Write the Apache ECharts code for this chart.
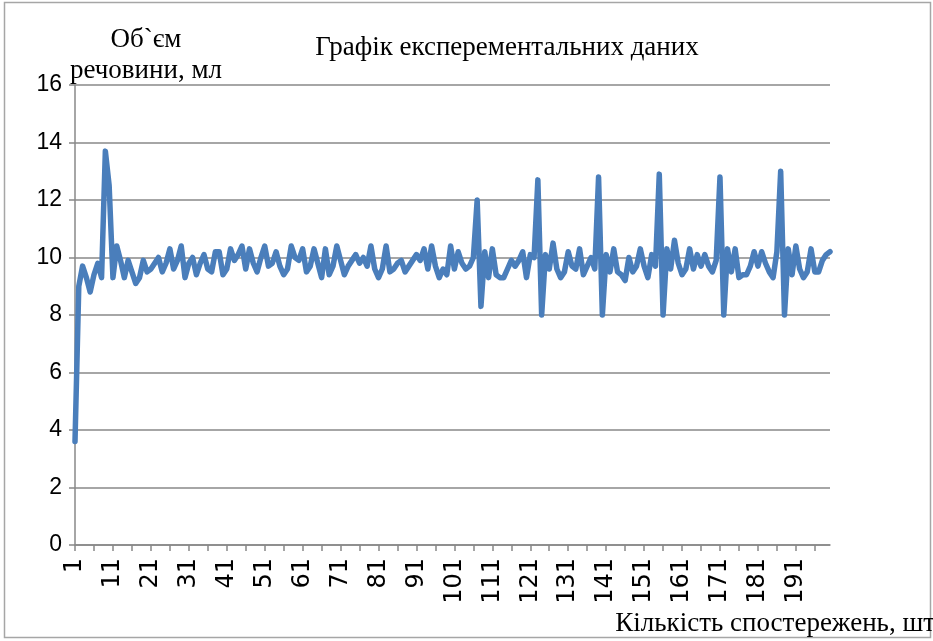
<!DOCTYPE html>
<html>
<head>
<meta charset="utf-8">
<script src="https://cdn.jsdelivr.net/npm/echarts@6/dist/echarts.min.js"></script>
<style>
  html, body { margin: 0; padding: 0; background: #fff; }
  #chart { width: 933px; height: 641px; }
</style>
</head>
<body>
<div id="chart"></div>
<script>
// observation numbers 1..200
const categories = Array.from({ length: 200 }, (_, i) => String(i + 1));

// volume of substance, ml
const volumes = [
  3.6, 9.0, 9.7, 9.3, 8.8, 9.4, 9.8, 9.3, 13.7, 12.5,
  9.3, 10.4, 9.9, 9.3, 9.9, 9.5, 9.1, 9.3, 9.9, 9.5,
  9.6, 9.8, 10.0, 9.5, 9.8, 10.3, 9.6, 9.9, 10.4, 9.3,
  9.8, 10.0, 9.4, 9.8, 10.1, 9.6, 9.5, 10.2, 10.2, 9.4,
  9.6, 10.3, 9.9, 10.1, 10.4, 9.6, 10.3, 9.8, 9.5, 10.0,
  10.4, 9.7, 9.8, 10.2, 9.7, 9.4, 9.6, 10.4, 10.0, 9.9,
  10.3, 9.5, 9.7, 10.3, 9.8, 9.3, 10.3, 9.4, 9.7, 10.4,
  9.9, 9.4, 9.7, 9.9, 10.1, 9.8, 10.0, 9.7, 10.4, 9.6,
  9.3, 9.6, 10.4, 9.5, 9.6, 9.8, 9.9, 9.5, 9.7, 9.9,
  10.1, 9.9, 10.3, 9.6, 10.4, 9.7, 9.3, 9.6, 9.4, 10.4,
  9.6, 10.2, 9.8, 9.6, 9.7, 10.0, 12.0, 8.3, 10.2, 9.3,
  10.3, 9.4, 9.3, 9.3, 9.6, 9.9, 9.7, 9.9, 10.2, 9.3,
  10.1, 10.0, 12.7, 8.0, 10.1, 9.6, 10.5, 9.6, 9.3, 9.5,
  10.2, 9.7, 9.6, 10.3, 9.4, 9.7, 10.0, 9.6, 12.8, 8.0,
  10.1, 9.5, 10.3, 9.5, 9.4, 9.2, 10.0, 9.5, 9.7, 10.3,
  9.7, 9.3, 10.1, 9.7, 12.9, 8.0, 10.3, 9.6, 10.6, 9.8,
  9.4, 9.6, 10.3, 9.6, 10.1, 9.7, 10.1, 9.7, 9.5, 9.9,
  12.8, 8.0, 10.3, 9.5, 10.3, 9.3, 9.4, 9.4, 9.7, 10.2,
  9.7, 10.2, 9.8, 9.5, 9.3, 10.2, 13.0, 8.0, 10.3, 9.4,
  10.4, 9.6, 9.3, 9.5, 10.3, 9.5, 9.5, 9.9, 10.1, 10.2
];

const yMin = 0;
const yMax = 16;
const yStep = 2;

const chart = echarts.init(document.getElementById("chart"));

const serif = "'Liberation Serif', 'Times New Roman', serif";
const sans = "'Liberation Sans', Arial, sans-serif";
const gridGray = "#888888";

const option = {
  backgroundColor: "#ffffff",
  animation: false,
  title: [
    {
      text: "Графік експерементальних даних",
      left: 502,
      top: 29,
      textAlign: "center",
      textStyle: { fontFamily: serif, fontSize: 27, fontWeight: "normal", color: "#000" }
    },
    {
      text: "Об`єм\nречовини, мл",
      left: 141,
      top: 19,
      textAlign: "center",
      textStyle: { fontFamily: serif, fontSize: 27, fontWeight: "normal", color: "#000", lineHeight: 31 }
    },
    {
      text: "Кількість спостережень, шт",
      left: 930,
      top: 605,
      textAlign: "right",
      textStyle: { fontFamily: serif, fontSize: 27, fontWeight: "normal", color: "#000" }
    }
  ],
  grid: {
    left: 75,
    right: 103,
    top: 85,
    bottom: 96,
    containLabel: false
  },
  xAxis: {
    type: "category",
    data: categories,
    boundaryGap: false,
    axisLine: { show: true, lineStyle: { color: gridGray, width: 1.5 } },
    axisTick: { show: true, interval: 4, length: 6, lineStyle: { color: gridGray, width: 1.5 } },
    axisLabel: {
      interval: 9,
      rotate: 90,
      margin: 13,
      fontFamily: "'DejaVu Sans', sans-serif",
      fontSize: 24,
      color: "#000"
    },
    splitLine: { show: false }
  },
  yAxis: {
    type: "value",
    min: yMin,
    max: yMax,
    interval: yStep,
    axisLine: { show: true, lineStyle: { color: gridGray, width: 1.5 } },
    axisTick: { show: true, length: 6, lineStyle: { color: gridGray, width: 1.5 } },
    axisLabel: { margin: 13, fontFamily: sans, fontSize: 23, color: "#000" },
    splitLine: { show: true, lineStyle: { color: gridGray, width: 1.5 } }
  },
  graphic: [
    {
      type: "rect",
      shape: { x: 4.5, y: 2.5, width: 926, height: 635 },
      style: { fill: "none", stroke: "#a6a6a6", lineWidth: 1.5 },
      silent: true
    }
  ],
  series: [
    {
      name: "Об`єм речовини",
      type: "line",
      data: volumes,
      showSymbol: false,
      smooth: false,
      lineStyle: { color: "#4A7EBB", width: 5.5, cap: "round", join: "round" },
      itemStyle: { color: "#4A7EBB" }
    }
  ]
};

chart.setOption(option);

window.addEventListener("resize", function() {
  if (chart != null) {
    chart.resize();
  }
});
</script>
</body>
</html>
